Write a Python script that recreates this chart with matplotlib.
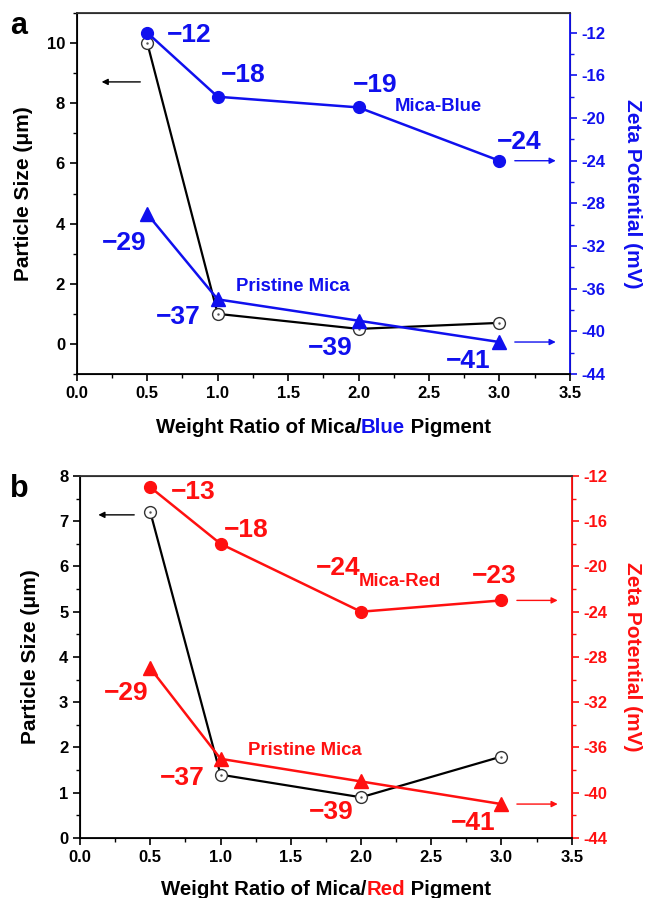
import matplotlib
matplotlib.use("Agg")
import matplotlib.pyplot as plt
from matplotlib.ticker import MultipleLocator

plt.rcParams['font.family'] = ['Liberation Sans', 'DejaVu Sans']
plt.rcParams['font.weight'] = 'bold'
plt.rcParams['axes.labelweight'] = 'bold'
plt.rcParams['axes.unicode_minus'] = False

ratio = [0.5, 1.0, 2.0, 3.0]

# panel a (blue pigment)
size_a = [10.0, 1.0, 0.5, 0.7]
zeta_mix_a = [-12, -18, -19, -24]
zeta_pri_a = [-29, -37, -39, -41]

# panel b (red pigment)
size_b = [7.2, 1.4, 0.9, 1.8]
zeta_mix_b = [-13, -18, -24, -23]
zeta_pri_b = [-29, -37, -39, -41]

fig = plt.figure(figsize=(6.46, 8.98), dpi=100)

def panel(rect, size, zmix, zpri, col, ylim, ymaj, ymin, zlim, name,
          lbl_mix, lbl_pri, mix_text, pri_text, larrow, letter, lx, rx):
    ax = fig.add_axes(rect)
    ax2 = ax.twinx()
    ax.plot(ratio, size, color='black', lw=1.6, marker='o', ms=8.5,
            mfc='white', mec='#333333', mew=1.0, zorder=3)
    ax.plot(ratio, size, ls='none', marker='.', ms=1.5, color='#555555', zorder=4)
    ax2.plot(ratio, zmix, color=col, lw=1.8, marker='o', ms=8.5)
    ax2.plot(ratio, zpri, color=col, lw=1.8, marker='^', ms=9.5)

    ax.set_xlim(0, 3.5)
    ax.set_ylim(*ylim)
    ax2.set_ylim(*zlim)
    ax.xaxis.set_major_locator(MultipleLocator(0.5))
    ax.xaxis.set_minor_locator(MultipleLocator(0.25))
    ax.yaxis.set_major_locator(MultipleLocator(ymaj))
    ax.yaxis.set_minor_locator(MultipleLocator(ymin))
    ax2.yaxis.set_major_locator(MultipleLocator(4))
    ax2.yaxis.set_minor_locator(MultipleLocator(2))
    ax.xaxis.set_major_formatter(matplotlib.ticker.FormatStrFormatter('%.1f'))

    ax.tick_params(which='major', length=5, width=1.2, labelsize=12)
    ax.tick_params(which='minor', length=3, width=1.0)
    ax2.tick_params(which='major', length=5, width=1.2, labelsize=12,
                    colors=col)
    ax2.tick_params(which='minor', length=3, width=1.0, colors=col)
    for s in ['left', 'bottom', 'top']:
        ax2.spines[s].set_linewidth(1.3)
    ax2.spines['top'].set_color('#333333')
    ax2.spines['right'].set_color(col)
    ax2.spines['right'].set_linewidth(1.3)

    ax.set_ylabel('Particle Size (\u03bcm)', fontsize=15, va='center', ha='center')
    ax.yaxis.set_label_coords(lx, 0.5)
    ax2.set_ylabel('Zeta Potential (mV)', fontsize=15, color=col,
                   rotation=270, va='center', ha='center')
    ax2.yaxis.set_label_coords(rx, 0.5)

    # value labels
    for (x, y, ha), v in zip(lbl_mix, zmix):
        ax2.text(x, y, '\u2212%d' % abs(v), color=col, fontsize=19,
                 ha=ha, va='center')
    for (x, y, ha), v in zip(lbl_pri, zpri):
        ax2.text(x, y, '\u2212%d' % abs(v), color=col, fontsize=19,
                 ha=ha, va='center')
    ax2.text(*mix_text, name, color=col, fontsize=13.3, ha='center', va='center')
    ax2.text(*pri_text, 'Pristine Mica', color=col, fontsize=13.3,
             ha='center', va='center')

    # arrows
    ax.annotate('', xy=(larrow[1], larrow[2]), xytext=(larrow[0], larrow[2]),
                arrowprops=dict(arrowstyle='-|>', color='black', lw=1.0,
                                mutation_scale=9))
    for z in (zmix[-1], zpri[-1]):
        ax2.annotate('', xy=(3.42, z), xytext=(3.09, z),
                     arrowprops=dict(arrowstyle='-|>', color=col, lw=1.0,
                                     mutation_scale=9))

    fig.text(0.015, rect[1] + rect[3] + 0.002, letter, fontsize=22,
             va='top', ha='left')
    return ax


ax_a = panel([0.119, 0.5835, 0.763, 0.402], size_a, zeta_mix_a, zeta_pri_a,
             '#1010ee', (-1, 11), 2, 1, (-44, -10.15), 'Mica-Blue',
             [(0.8, -12.2, 'center'), (1.18, -16.0, 'center'),
              (2.12, -16.9, 'center'), (3.14, -22.2, 'center')],
             [(0.335, -31.7, 'center'), (0.72, -38.7, 'center'),
              (1.80, -41.6, 'center'), (2.78, -42.8, 'center')],
             (2.57, -18.9), (1.53, -35.8), (0.47, 0.156, 8.71), 'a',
             -0.1075, 1.128)

ax_b = panel([0.124, 0.0668, 0.761, 0.4032], size_b, zeta_mix_b, zeta_pri_b,
             '#ff1010', (0, 8), 1, 0.5, (-44, -12), 'Mica-Red',
             [(0.806, -13.4, 'center'), (1.185, -16.8, 'center'),
              (1.84, -20.1, 'center'), (2.95, -20.8, 'center')],
             [(0.325, -31.2, 'center'), (0.726, -38.7, 'center'),
              (1.79, -41.7, 'center'), (2.80, -42.7, 'center')],
             (2.28, -21.3), (1.60, -36.3), (0.405, 0.11, 7.14), 'b',
             -0.1016, 1.124)

# two-colour x labels, pieces set on one baseline
fig.canvas.draw()
renderer = fig.canvas.get_renderer()
for ax, y, word, col in [(ax_a, 1 - 433 / 898, 'Blue', '#1010ee'),
                         (ax_b, 1 - 895 / 898, 'Red', '#ff1010')]:
    parts = [('Weight Ratio of Mica/', 'black'), (word, col), ('\u00a0Pigment', 'black')]
    texts = [fig.text(0, y, s, color=c, fontsize=14.7, ha='left', va='baseline')
             for s, c in parts]
    fig.canvas.draw()
    widths = [t.get_window_extent(renderer).width / fig.bbox.width for t in texts]
    bb = ax.get_position()
    x = (bb.x0 + bb.x1) / 2 - sum(widths) / 2
    for t, w in zip(texts, widths):
        t.set_x(x)
        x += w

fig.savefig('out.png', dpi=100)
